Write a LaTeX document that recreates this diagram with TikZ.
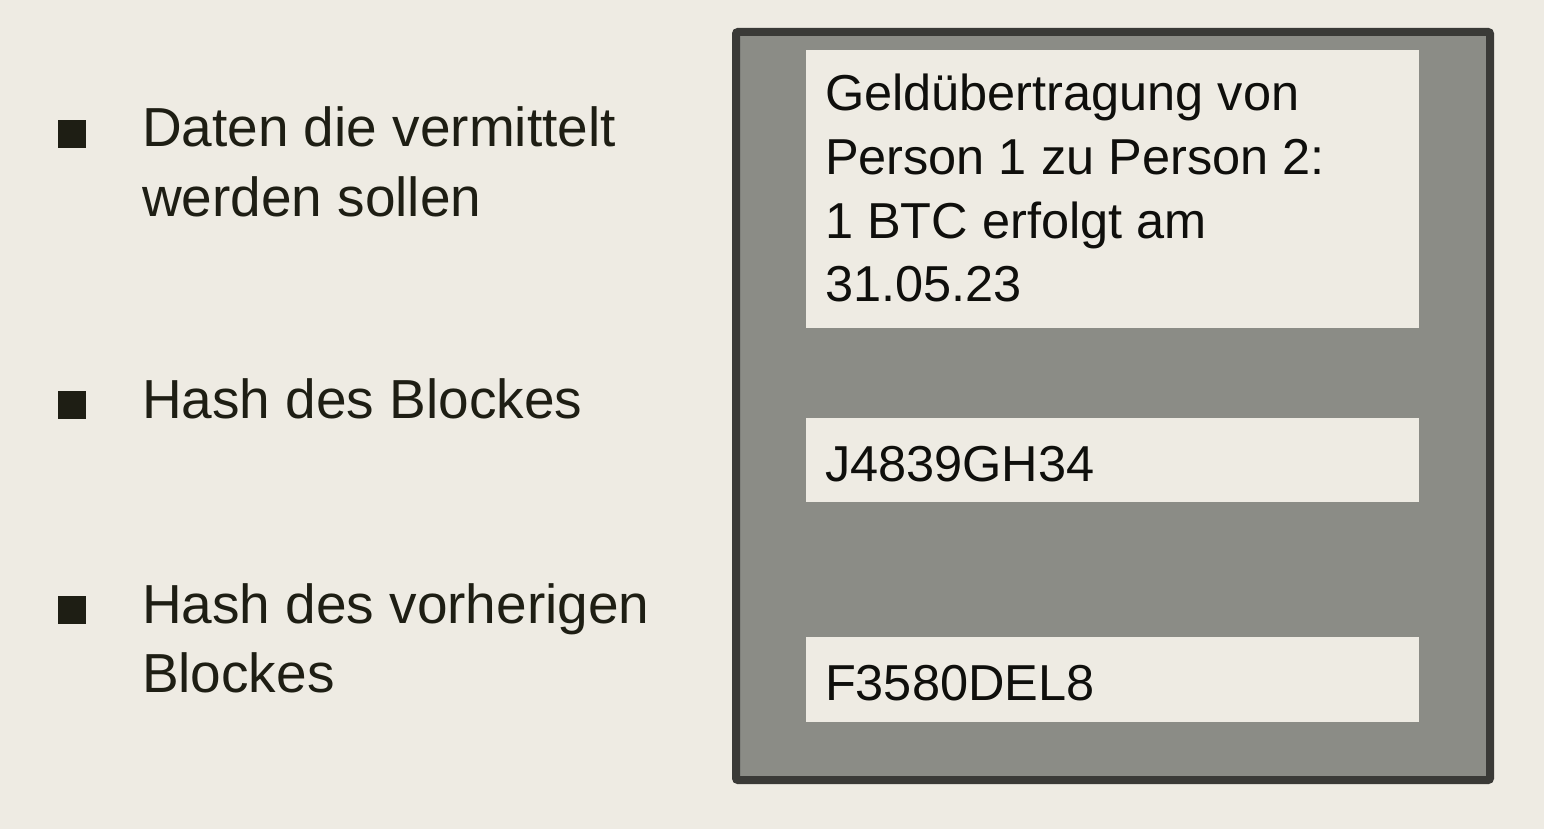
\documentclass[tikz,border=0pt]{standalone}
\usepackage{fontspec}
\setmainfont{Liberation Sans}
\definecolor{bgc}{RGB}{238,235,227}
\definecolor{grayc}{RGB}{139,140,134}
\definecolor{borderc}{RGB}{58,58,55}
\definecolor{txtc}{RGB}{30,30,20}
\definecolor{boxtxt}{RGB}{15,15,12}
\tikzset{
  lefttext/.style={anchor=base west, inner sep=0pt, outer sep=0pt, text=txtc, font=\fontsize{55}{69}\selectfont},
  righttext/.style={anchor=base west, inner sep=0pt, outer sep=0pt, text=boxtxt, font=\fontsize{50.5}{63}\selectfont},
  bulletbox/.style={fill=txtc, draw=none, inner sep=0pt, outer sep=0pt, minimum size=28pt, anchor=south west},
  fieldbox/.style={fill=bgc, draw=none, inner sep=0pt, outer sep=0pt, minimum width=613pt},
  blockbox/.style={draw=borderc, line width=8pt, fill=grayc, rounded corners=2pt, inner sep=0pt, outer sep=0pt}
}
\begin{document}
\begin{tikzpicture}[x=1pt,y=-1pt]
\fill[bgc] (0,0) rectangle (1544,829);
\useasboundingbox (0,0) rectangle (1544,829);

% left bullet list
\node[bulletbox] (b1) at (58,148) {};
\node[bulletbox] (b2) at (58,419) {};
\node[bulletbox] (b3) at (58,624) {};
\node[lefttext] (l1a) at (142,147) {Daten die vermittelt};
\node[lefttext] (l1b) at (142,216) {werden sollen};
\node[lefttext] (l2) at (142,418) {Hash des Blockes};
\node[lefttext] (l3a) at (142,623) {Hash des vorherigen};
\node[lefttext] (l3b) at (142,692) {Blockes};

% block
\node[blockbox, minimum width=754pt, minimum height=748pt] (block) at (1113,406) {};
\node[fieldbox, minimum height=278pt] (f1) at (1112.5,189) {};
\node[fieldbox, minimum height=84pt] (f2) at (1112.5,460) {};
\node[fieldbox, minimum height=85pt] (f3) at (1112.5,679.5) {};

\node[righttext] (t1a) at (825,111) {Geldübertragung von};
\node[righttext] (t1b) at (825,175) {Person 1 zu Person 2:};
\node[righttext] (t1c) at (825,238) {1 BTC erfolgt am};
\node[righttext] (t1d) at (825,301) {31.05.23};
\node[righttext] (t2) at (825,481) {J4839GH34};
\node[righttext] (t3) at (825,700) {F3580DEL8};
\end{tikzpicture}
\end{document}
